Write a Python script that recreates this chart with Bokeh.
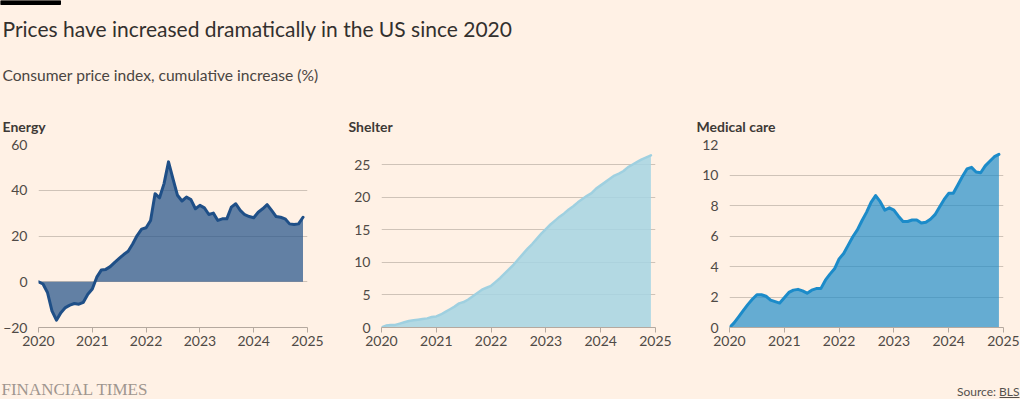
from bokeh.plotting import figure
from bokeh.layouts import column, row
from bokeh.models import Range1d, FixedTicker
from bokeh.core.properties import value
from bokeh.embed import file_html
from bokeh.resources import INLINE

# ---------------- data ----------------
# monthly observations, Jan 2020 .. Dec 2024
years = [2020, 2021, 2022, 2023, 2024]
months = [y + m / 12 for y in years for m in range(12)]

energy = [0, -1.0, -4.7, -12.7, -16.8, -13.5, -11.3, -10.2, -9.5, -9.8, -9.0, -5.5,
          -3.2, 2.0, 5.1, 5.4, 6.6, 8.5, 10.2, 11.9, 13.3, 16.5, 20.2, 23.0,
          23.6, 26.8, 38.5, 36.7, 42.9, 52.4, 45.0, 37.8, 35.3, 37.0, 35.9, 31.9,
          33.4, 32.3, 29.4, 30.0, 26.8, 27.5, 27.5, 32.6, 34.1, 31.2, 29.3, 28.5,
          28.0, 30.4, 31.9, 33.7, 31.2, 28.5, 28.2, 27.5, 25.3, 25.0, 25.3, 28.2]

shelter = [0, 0.3, 0.4, 0.4, 0.6, 0.8, 1.0, 1.1, 1.2, 1.3, 1.4, 1.6,
           1.7, 2.0, 2.4, 2.8, 3.2, 3.7, 3.9, 4.3, 4.8, 5.3, 5.8, 6.1,
           6.4, 7.0, 7.6, 8.3, 9.0, 9.7, 10.5, 11.3, 12.1, 12.8, 13.6, 14.4,
           15.1, 15.8, 16.4, 17.0, 17.5, 18.1, 18.6, 19.2, 19.7, 20.2, 20.6, 21.3,
           21.8, 22.3, 22.8, 23.3, 23.6, 24.0, 24.6, 25.0, 25.4, 25.8, 26.1, 26.4]

medical = [0, 0.3, 0.7, 1.1, 1.5, 1.85, 2.15, 2.15, 2.05, 1.8, 1.7, 1.6,
           1.95, 2.3, 2.45, 2.5, 2.4, 2.25, 2.45, 2.55, 2.55, 3.1, 3.5, 3.85,
           4.5, 4.85, 5.4, 5.95, 6.4, 7.0, 7.55, 8.2, 8.65, 8.25, 7.7, 7.85,
           7.7, 7.3, 6.95, 6.95, 7.05, 7.05, 6.85, 6.9, 7.1, 7.4, 7.9, 8.4,
           8.8, 8.8, 9.35, 9.9, 10.4, 10.5, 10.2, 10.15, 10.6, 10.9, 11.2, 11.35]

x_ticks = [2020, 2021, 2022, 2023, 2024, 2025]
energy_ticks = [-20, 0, 20, 40, 60]
shelter_ticks = [0, 5, 10, 15, 20, 25]
medical_ticks = [0, 2, 4, 6, 8, 10, 12]

title = "Prices have increased dramatically in the US since 2020"
subtitle = "Consumer price index, cumulative increase (%)"
panel_titles = ["Energy", "Shelter", "Medical care"]

# ---------------- style ----------------
BG = "#fff1e5"
FONT = "Lato"
TEXT_DARK = "#33302e"
TICK_COL = "#4f4a46"
GRID = "#cfc3b8"
AXIS = "#b5a99f"

W = 1020
HEAD_H = 136
PANEL_H = 219
FOOT_H = 44


def blank(width, height, y0, y1):
    p = figure(width=width, height=height, output_backend="svg", toolbar_location=None,
               x_range=Range1d(0, width), y_range=Range1d(y1, y0),
               x_axis_type=None, y_axis_type=None,
               min_border=0, background_fill_color=BG, border_fill_color=BG)
    p.grid.visible = False
    p.outline_line_color = None
    return p


# header
head = blank(W, HEAD_H, 0, HEAD_H)
head.quad(left=[0], right=[60], top=[0], bottom=[4], color="#000000")
head.text(x=[2], y=[28], text=[title], text_font=value(FONT), text_font_size="21px",
          text_color=TEXT_DARK, text_baseline="middle", text_align="left")
head.text(x=[2], y=[74], text=[subtitle], text_font=value(FONT), text_font_size="15.6px",
          text_color="#4a4542", text_baseline="middle", text_align="left")
head.text(x=[2, 348, 696], y=[126, 126, 126], text=panel_titles, text_font=value(FONT),
          text_font_size="14px", text_font_style="bold", text_color="#3d3936",
          text_baseline="middle", text_align="left")


def panel(vals, yr, yticks, line_col, fill_col, fill_alpha, width, right, lw):
    p = figure(width=width, height=PANEL_H, output_backend="svg", toolbar_location=None,
               x_range=Range1d(2020, 2025), y_range=Range1d(*yr),
               min_border_left=33, min_border_right=right, min_border_top=8,
               min_border_bottom=28, background_fill_color=BG, border_fill_color=BG)
    p.outline_line_color = None
    p.xgrid.visible = False
    p.ygrid.ticker = FixedTicker(ticks=yticks[1:])
    p.ygrid.grid_line_color = GRID
    p.ygrid.grid_line_width = 1
    p.xaxis.ticker = FixedTicker(ticks=x_ticks)
    p.yaxis.ticker = FixedTicker(ticks=yticks)
    for ax in (p.xaxis[0], p.yaxis[0]):
        ax.major_label_text_font = FONT
        ax.major_label_text_font_size = "14px"
        ax.major_label_text_color = TICK_COL
        ax.minor_tick_line_color = None
    p.xaxis.axis_line_color = AXIS
    p.xaxis.major_tick_line_color = AXIS
    p.xaxis.major_tick_out = 5
    p.xaxis.major_tick_in = 0
    p.xaxis.major_label_standoff = 3
    p.yaxis.axis_line_color = None
    p.yaxis.major_tick_line_color = None
    p.yaxis.major_tick_out = 0
    p.yaxis.major_tick_in = 0
    p.yaxis.major_label_standoff = 11
    p.varea(x=months, y1=[0] * len(vals), y2=vals, fill_color=fill_col, fill_alpha=fill_alpha)
    p.line(x=months, y=vals, line_color=line_col, line_width=lw, line_join="round",
           line_cap="round")
    return p


p1 = panel(energy, (-20, 60), energy_ticks, "#1f4f87", "#26548a", 0.72, 348, 41, 3)
p2 = panel(shelter, (0, 28.07), shelter_ticks, "#9fd0e0", "#a6d5e3", 0.85, 348, 41, 2.5)
p3 = panel(medical, (0, 12), medical_ticks, "#1c8bc9", "#1c8bc9", 0.68, 324, 17, 3)

# footer
foot = blank(W, FOOT_H, 355, 399)
foot.text(x=[1], y=[389], text=["FINANCIAL TIMES"], text_font=value("Liberation Serif"),
          text_font_size="17px", text_color="#9f968f", text_baseline="middle",
          text_align="left")
foot.text(x=[1019], y=[391], text=["Source: BLS"], text_font=value(FONT),
          text_font_size="12px", text_color="#55504c", text_baseline="middle",
          text_align="right")
foot.segment(x0=[999], y0=[397], x1=[1019], y1=[397], line_color="#55504c", line_width=1)

layout = column(head, row(p1, p2, p3), foot)

html = file_html(layout, INLINE)
html = html.replace("<head>", "<head><style>html,body{margin:0;padding:0;background:#fff1e5;}</style>", 1)
open("out.html", "w").write(html)
